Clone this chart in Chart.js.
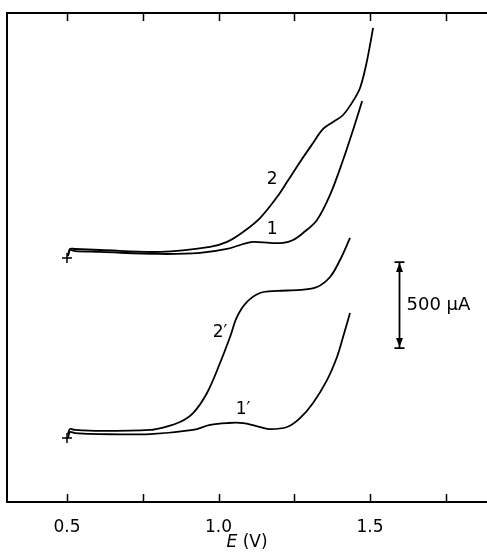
<!DOCTYPE html>
<html><head><meta charset="utf-8">
<script src="https://cdn.jsdelivr.net/npm/chart.js@4.4.0/dist/chart.umd.min.js"></script>
<style>html,body{margin:0;padding:0;background:#fff}#wrap{width:487px;height:552px;position:relative}</style>
</head><body><div id="wrap"><canvas id="c" width="487" height="552"></canvas></div>
<script>
// Potential E (V) and current I (µA, curves offset vertically as in the figure)
const c2E  = [0.503,0.510,0.526,0.609,0.807,0.972,1.028,1.081,1.137,1.193,1.226,1.269,1.312,1.345,1.378,1.411,1.444,1.467,1.487,1.500,1.510];
const c2I  = [1430,1471,1471,1465,1454,1483,1512,1570,1651,1773,1860,1977,2087,2169,2209,2250,2331,2407,2541,2657,2756];
const c1E  = [0.503,0.510,0.526,0.609,0.807,0.939,1.028,1.081,1.114,1.170,1.213,1.246,1.279,1.325,1.368,1.411,1.444,1.474];
const c1I  = [1430,1465,1459,1454,1442,1448,1471,1500,1512,1506,1506,1523,1564,1640,1785,1988,2163,2331];
const c2pE = [0.503,0.510,0.526,0.609,0.774,0.823,0.873,0.916,0.962,1.005,1.038,1.061,1.094,1.137,1.193,1.269,1.325,1.368,1.401,1.434];
const c2pI = [395,424,419,413,419,436,465,517,634,808,959,1076,1163,1215,1227,1233,1250,1308,1407,1535];
const c1pE = [0.503,0.510,0.526,0.609,0.774,0.916,0.972,1.028,1.081,1.137,1.170,1.226,1.269,1.312,1.358,1.391,1.411,1.434];
const c1pI = [372,407,401,395,395,419,448,459,459,436,424,436,488,576,709,843,959,1099];
const startE = [0.5, 0.5];
const startI = [1419, 372];
const xTicks = [0.5, 0.75, 1.0, 1.25, 1.5, 1.75];
const xTickLabels = ['0.5', '', '1.0', '', '1.5', ''];
const curveLabels = [
  {text: '2',  E: 1.177, I: 1872},
  {text: '1',  E: 1.177, I: 1581},
  {text: '2\u2032', E: 1.005, I: 983},
  {text: '1\u2032', E: 1.081, I: 535}
];
const scaleBar = {E: 1.596, from: 895, to: 1395, label: '500 \u03bcA'};
const xTitle = ['E', ' (V)'];

const pts = (xs, ys) => xs.map((x, i) => ({x, y: ys[i]}));
const lineDs = (label, xs, ys) => ({
  label, data: pts(xs, ys), borderColor: '#000', borderWidth: 1.8,
  pointRadius: 0, fill: false, tension: 0.35
});

const FONT = 'DejaVu Sans';

const deco = {
  id: 'deco',
  afterDraw(chart) {
    const {ctx, chartArea: a, scales: {x, y}} = chart;
    ctx.save();
    ctx.strokeStyle = '#000'; ctx.fillStyle = '#000';
    ctx.lineWidth = 2;
    ctx.beginPath();
    ctx.moveTo(a.left, a.bottom); ctx.lineTo(a.left, a.top); ctx.lineTo(a.right, a.top);
    ctx.stroke();
    ctx.lineWidth = 1.5;
    xTicks.forEach(v => {
      const px = Math.round(x.getPixelForValue(v)) + 0.5;
      ctx.beginPath();
      ctx.moveTo(px, a.top); ctx.lineTo(px, a.top + 8);
      ctx.moveTo(px, a.bottom); ctx.lineTo(px, a.bottom - 8);
      ctx.stroke();
    });
    ctx.font = '17px "' + FONT + '"';
    ctx.textAlign = 'center'; ctx.textBaseline = 'middle';
    curveLabels.forEach(l => ctx.fillText(l.text, x.getPixelForValue(l.E), y.getPixelForValue(l.I)));
    // scale bar
    const bx = Math.round(x.getPixelForValue(scaleBar.E)) + 0.5;
    const y1 = y.getPixelForValue(scaleBar.to), y2 = y.getPixelForValue(scaleBar.from);
    ctx.lineWidth = 1.8;
    ctx.beginPath();
    ctx.moveTo(bx, y1); ctx.lineTo(bx, y2);
    ctx.moveTo(bx - 5, y1); ctx.lineTo(bx + 5, y1);
    ctx.moveTo(bx - 5, y2); ctx.lineTo(bx + 5, y2);
    ctx.stroke();
    ctx.beginPath();
    ctx.moveTo(bx, y1 + 1); ctx.lineTo(bx - 3.5, y1 + 10); ctx.lineTo(bx + 3.5, y1 + 10); ctx.closePath();
    ctx.moveTo(bx, y2 - 1); ctx.lineTo(bx - 3.5, y2 - 10); ctx.lineTo(bx + 3.5, y2 - 10); ctx.closePath();
    ctx.fill();
    ctx.textAlign = 'left';
    ctx.font = '18px "' + FONT + '"';
    ctx.fillText(scaleBar.label, bx + 7, (y1 + y2) / 2);
    // axis title
    ctx.font = 'italic 17px "' + FONT + '"';
    const w1 = ctx.measureText(xTitle[0]).width;
    ctx.font = '17px "' + FONT + '"';
    const w2 = ctx.measureText(xTitle[1]).width;
    const cx = (a.left + a.right) / 2, ty = a.bottom + 41;
    let sx = cx - (w1 + w2) / 2;
    ctx.font = 'italic 17px "' + FONT + '"';
    ctx.fillText(xTitle[0], sx, ty);
    ctx.font = '17px "' + FONT + '"';
    ctx.fillText(xTitle[1], sx + w1, ty);
    ctx.restore();
  }
};

new Chart(document.getElementById('c'), {
  type: 'line',
  data: {
    datasets: [
      lineDs('2', c2E, c2I),
      lineDs('1', c1E, c1I),
      lineDs("2'", c2pE, c2pI),
      lineDs("1'", c1pE, c1pI),
      {label: 'start', type: 'scatter', data: pts(startE, startI), pointStyle: 'cross',
       pointRadius: 5, borderColor: '#000', borderWidth: 1.5, showLine: false}
    ]
  },
  options: {
    responsive: false, animation: false, devicePixelRatio: 1,
    layout: {autoPadding: false, padding: {left: 7, top: 13, right: 0, bottom: 7.6}},
    plugins: {legend: {display: false}, tooltip: {enabled: false}},
    scales: {
      x: {
        type: 'linear', min: 0.302, max: 1.886, position: 'bottom',
        grid: {display: false},
        border: {display: true, color: '#000', width: 2},
        afterBuildTicks: ax => { ax.ticks = xTicks.map(v => ({value: v})); },
        ticks: {
          autoSkip: false, maxRotation: 0, padding: 7, color: '#000',
          font: {family: FONT, size: 17},
          callback: (v) => { const i = xTicks.indexOf(v); return i >= 0 ? xTickLabels[i] : ''; }
        }
      },
      y: {type: 'linear', display: false, min: 0, max: 2843}
    }
  },
  plugins: [deco]
});
</script></body></html>
